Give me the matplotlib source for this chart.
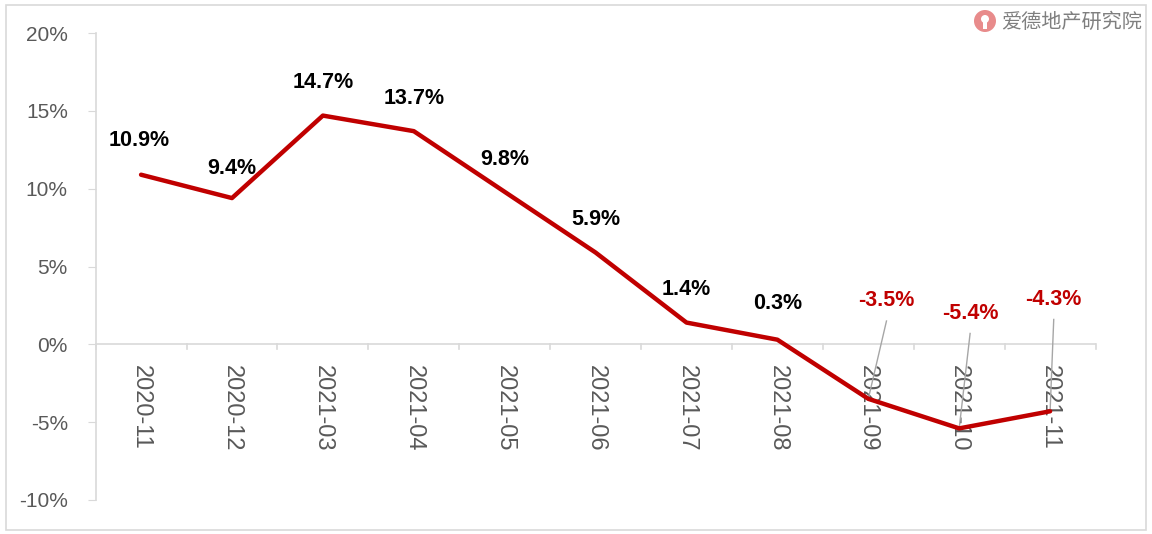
import matplotlib.pyplot as plt
from matplotlib.patches import Rectangle, Ellipse

plt.rcParams['font.family'] = ['Noto Sans CJK SC', 'DejaVu Sans']

# data
months = ['2020-11', '2020-12', '2021-03', '2021-04', '2021-05', '2021-06',
          '2021-07', '2021-08', '2021-09', '2021-10', '2021-11']
values = [10.9, 9.4, 14.7, 13.7, 9.8, 5.9, 1.4, 0.3, -3.5, -5.4, -4.3]
yticks = [-10, -5, 0, 5, 10, 15, 20]

fig = plt.figure(figsize=(11.52, 5.34), dpi=100)
ax = fig.add_axes([0.083, 0.0637, 0.868, 0.8743])

x = list(range(len(months)))
ax.plot(x, values, color='#C00000', linewidth=3.2, solid_capstyle='round', zorder=3)

ax.set_xlim(-0.5, len(months) - 0.5)
ax.set_ylim(-10, 20)
ax.set_yticks(yticks)
ax.set_yticklabels([f'{v}%' for v in yticks], fontsize=15, color='#595959',
                   family=['Liberation Sans', 'DejaVu Sans'])
ax.tick_params(axis='y', length=6, color='#D9D9D9', pad=14)

for s in ['top', 'right', 'bottom']:
    ax.spines[s].set_visible(False)
ax.spines['left'].set_color('#D9D9D9')
ax.spines['left'].set_linewidth(1.2)
ax.set_xticks([])

# x axis line at zero with boundary ticks
ax.axhline(0, color='#D9D9D9', linewidth=1.2, zorder=1)
for b in range(len(months) + 1):
    ax.plot([b - 0.5, b - 0.5], [0, -0.3], color='#D9D9D9', linewidth=1.2,
            clip_on=False, zorder=1)

# category labels, rotated, below zero line
for i, m in enumerate(months):
    ax.text(i, -1.3, m, rotation=270, ha='center', va='top', fontsize=17,
            color='#595959', family=['Liberation Sans Narrow', 'Liberation Sans', 'DejaVu Sans'],
            zorder=2)

# data labels
offsets = [(-0.02, 2.2), (0.0, 1.9), (0.0, 2.1), (0.0, 2.1), (0.0, 2.1), (0.0, 2.1),
           (0.0, 2.1), (0.0, 2.3), (0.2, 6.3), (0.12, 7.4), (0.04, 7.2)]
for i, v in enumerate(values):
    dx, dy = offsets[i]
    tx, ty = i + dx, v + dy
    col = '#000000' if v >= 0 else '#C00000'
    ax.text(tx, ty, f'{v:.1f}%', ha='center', va='center', fontsize=15.5,
            fontweight='bold', color=col,
            family=['Liberation Sans Narrow', 'Liberation Sans', 'DejaVu Sans'], zorder=4)
    if v < 0:
        ax.plot([tx, i], [ty - 1.3, v], color='#A6A6A6', linewidth=1.0, zorder=2)

# border and logo
fig.patches.append(Rectangle((0.005, 0.008), 0.99, 0.982, transform=fig.transFigure,
                             fill=False, edgecolor='#D9D9D9', linewidth=1.2))
cx, cy = 985 / 1152, 1 - 21 / 534
fig.patches.append(Ellipse((cx, cy), 22 / 1152, 22 / 534, transform=fig.transFigure,
                           facecolor='#E88B8B', edgecolor='none'))
fig.patches.append(Ellipse((cx, cy + 2 / 534), 8 / 1152, 8 / 534, transform=fig.transFigure,
                           facecolor='white', edgecolor='none'))
fig.patches.append(Rectangle((cx - 2 / 1152, cy - 8 / 534), 4 / 1152, 8 / 534,
                             transform=fig.transFigure, facecolor='white', edgecolor='none'))
fig.text(0.869, 0.958, '爱德地产研究院', fontsize=14.5, color='#7F7F7F', ha='left',
         va='center')

plt.savefig('out.png', dpi=100)
